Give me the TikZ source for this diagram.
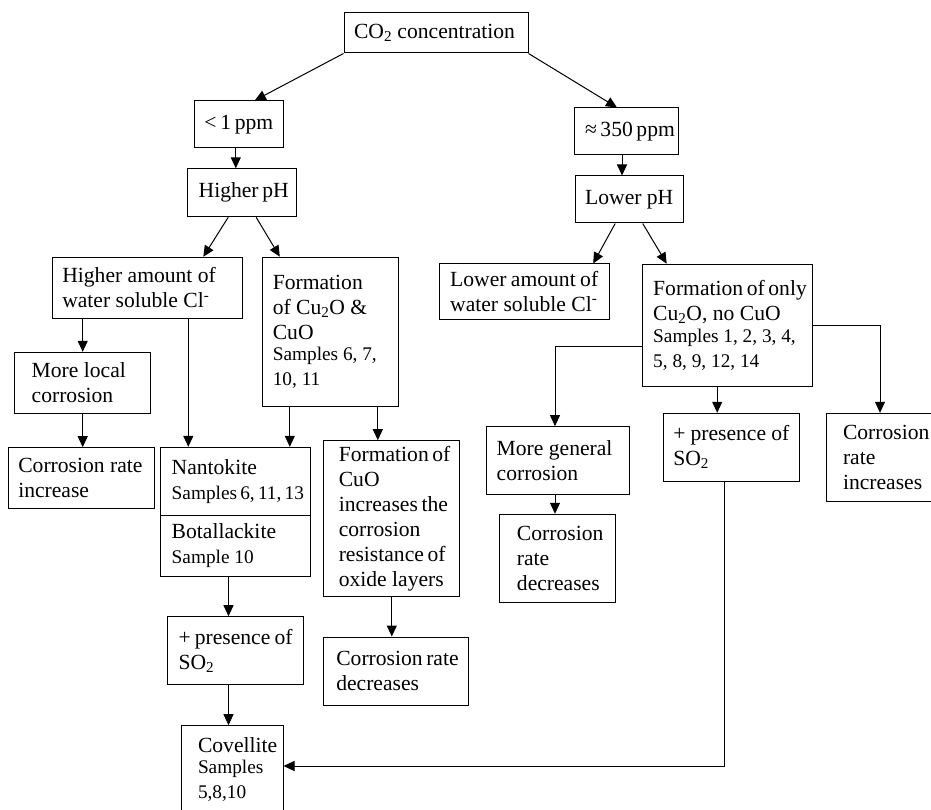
\documentclass[tikz,border=0pt]{standalone}
\usepackage{fontspec}
\setmainfont{Liberation Serif}
\usetikzlibrary{arrows.meta}
\newcommand{\mainsz}{\fontsize{21.6}{25}\selectfont}
\newcommand{\sampsz}{\fontsize{19.3}{21.5}\selectfont}

\begin{document}
\begin{tikzpicture}[x=1pt,y=-1pt,every node/.style={font=\mainsz},
  box/.style={draw,line width=1pt,inner sep=0pt,align=left,
    execute at begin node={\spaceskip=0pt\xspaceskip=0pt\hyphenpenalty=10000}},
  arr/.style={-{Triangle[length=11pt,width=10pt]},line width=1pt}]
\useasboundingbox (0,0) rectangle (931,810);
% top and the two concentrations
\node[box,minimum width=184pt,minimum height=40pt,text width=164pt] (conc) at (436,33) {CO\textsubscript{2} concentration};
\node[box,minimum width=89pt,minimum height=47pt,text width=69pt] (low) at (238.8,124.4) {<~1~ppm};
\node[box,minimum width=109pt,minimum height=48pt,text width=87pt] (hiph) at (242.2,192.8) {Higher~pH};
\node[box,minimum width=104pt,minimum height=47pt,text width=82pt] (amb) at (626,131.5) {≈~350~ppm};
\node[box,minimum width=108pt,minimum height=47pt,text width=88pt] (loph) at (629.2,199.5) {Lower~pH};
% left branch
\node[box,minimum width=190pt,minimum height=61pt,text width=170pt] (hicl) at (147.3,287.8) {Higher amount of\\water soluble Cl\textsuperscript{-}};
\node[box,minimum width=136pt,minimum height=149pt,text width=116pt] (both) at (330.8,331.7) {Formation\\of Cu\textsubscript{2}O \&\\CuO\par\sampsz Samples 6, 7,\\10, 11};
\node[box,minimum width=136pt,minimum height=61pt,text width=102pt] (local) at (82.7,382.8) {More local\\corrosion};
\node[box,minimum width=146pt,minimum height=60.6pt,text width=126pt] (incr) at (81.3,478) {Corrosion rate\\increase};
\node[box,minimum width=149.6pt,minimum height=68pt,text width=127.6pt] (nant) at (235.5,481.3) {Nantokite\par\sampsz Samples~6,~11,~13};
\node[box,minimum width=149.6pt,minimum height=60.7pt,text width=127.6pt] (bota) at (235.5,545.7) {Botallackite\par\sampsz Sample 10};
\node[box,minimum width=136.3pt,minimum height=156pt,text width=106pt] (cuo) at (391.8,518.7) {Formation~of\\CuO\\increases~the\\corrosion\\resistance~of\\oxide~layers};
\node[box,minimum width=145pt,minimum height=68pt,text width=119pt] (decl) at (395.8,671) {Corrosion~rate\\decreases};
\node[box,minimum width=136.4pt,minimum height=68pt,text width=114pt] (sulfl) at (235.5,650.7) {+~presence~of\\SO\textsubscript{2}};
\node[box,minimum width=102pt,minimum height=88pt,text width=68pt] (cove) at (232,769.7) {\mbox{Covellite}\par\sampsz Samples\\5,8,10};
% right branch
\node[box,minimum width=170pt,minimum height=55pt,text width=148pt] (locl) at (524.2,291.5) {Lower~amount~of\\water soluble Cl\textsuperscript{-}};
\node[box,minimum width=170pt,minimum height=122pt,text width=149pt] (onlyox) at (727.7,325.2) {Formation~of~only\\Cu\textsubscript{2}O, no CuO\par\sampsz Samples~1,~2,~3,~4,\\5, 8, 9, 12, 14};
\node[box,minimum width=142.6pt,minimum height=68.3pt,text width=122.6pt] (gen) at (558,460.8) {More general\\corrosion};
\node[box,minimum width=115.7pt,minimum height=88pt,text width=81.7pt] (decr) at (557.8,558.3) {\mbox{Corrosion}\\rate\\\mbox{decreases}};
\node[box,minimum width=136pt,minimum height=68pt,text width=116pt] (sulfr) at (731.3,447.3) {+~presence~of\\SO\textsubscript{2}};
\node[box,minimum width=110pt,minimum height=88.4pt,text width=76pt] (incrr) at (881,457.5) {\mbox{Corrosion}\\rate\\\mbox{increases}};
% arrows
\draw[arr] (conc.south west) -- ([xshift=16pt]low.north);
\draw[arr] (conc.south east) -- ([xshift=-9pt]amb.north);
\draw[arr] ([xshift=-3pt]low.south) -- ([xshift=-3pt]low.south |- hiph.north);
\draw[arr] ([xshift=-4pt]amb.south) -- ([xshift=-4pt]amb.south |- loph.north);
\draw[arr] ([xshift=-14pt]hiph.south) -- ([xshift=56pt]hicl.north);
\draw[arr] ([xshift=14pt]hiph.south) -- ([xshift=-51pt]both.north);
\draw[arr] ([xshift=-14pt]loph.south) -- ([xshift=69pt]locl.north);
\draw[arr] ([xshift=13.5pt]loph.south) -- ([xshift=-61pt]onlyox.north);
\draw[arr] (local.north |- hicl.south) -- (local.north);
\draw[arr] ([xshift=41pt]hicl.south) -- ([xshift=41pt]hicl.south |- nant.north);
\draw[arr] (local.south) -- (local.south |- incr.north);
\draw[arr] ([xshift=-41pt]both.south) -- ([xshift=-41pt]both.south |- nant.north);
\draw[arr] ([xshift=47pt]both.south) -- ([xshift=47pt]both.south |- cuo.north);
\draw[arr] (cuo.south) -- (cuo.south |- decl.north);
\draw[arr] ([xshift=-7pt]bota.south) -- ([xshift=-7pt]bota.south |- sulfl.north);
\draw[arr] ([xshift=-7pt]sulfl.south) -- ([xshift=-7pt]sulfl.south |- cove.north);
\draw[arr] ([yshift=-20.8pt]onlyox.west) -| ([xshift=-3pt]gen.north);
\draw[arr] ([xshift=-3pt]gen.south) -- ([xshift=-3pt]gen.south |- decr.north);
\draw[arr] ([xshift=-10.5pt]onlyox.south) -- ([xshift=-10.5pt]onlyox.south |- sulfr.north);
\draw[arr] (onlyox.east) -| ([xshift=-1pt]incrr.north);
\draw[arr] ([xshift=-6.5pt]sulfr.south) |- ([yshift=3.7pt]cove.east);
\end{tikzpicture}
\end{document}
